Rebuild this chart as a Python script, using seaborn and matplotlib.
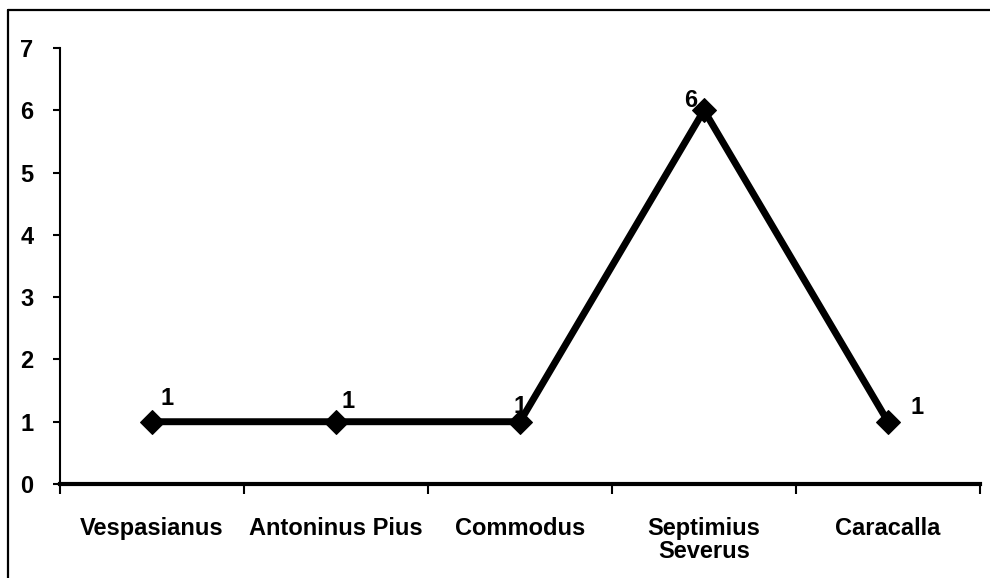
import matplotlib
matplotlib.use("Agg")
import matplotlib.pyplot as plt
import seaborn as sns
import pandas as pd
from matplotlib.lines import Line2D

categories = ["Vespasianus", "Antoninus Pius", "Commodus", "Septimius\nSeverus", "Caracalla"]
values = [1, 1, 1, 6, 1]
yticks = [0, 1, 2, 3, 4, 5, 6, 7]
# label offsets in pixels (dx, dy) relative to the point
label_offsets = [(15, 23), (12, 20), (0, 15), (-13, 10), (29, 14)]

sns.set_theme(style="white", rc={"text.color": "black", "xtick.color": "black",
                                 "ytick.color": "black", "axes.labelcolor": "black",
                                 "axes.edgecolor": "black"})
plt.rcParams['font.family'] = ['Liberation Sans', 'DejaVu Sans']
plt.rcParams['font.weight'] = 'bold'

df = pd.DataFrame({"cat": categories, "val": values})

fig = plt.figure(figsize=(9.9, 5.78), dpi=100)
ax = fig.add_axes([60/990, 1-484/578, 920/990, (484-48)/578])

sns.lineplot(data=df, x="cat", y="val", sort=False, ax=ax, color="black",
             linewidth=5, marker="D", markersize=12.5, markeredgecolor="black",
             markerfacecolor="black")

ax.set_xlim(-0.5, len(categories) - 0.5)
ax.set_ylim(0, 7)
ax.set_yticks(yticks)
ax.set_yticklabels([str(t) for t in yticks], fontsize=17, fontweight='bold', color='black')
ax.set_xticks(range(len(categories)))
ax.set_xticklabels(categories, fontsize=17, fontweight='bold', linespacing=1.0, va='top', color='black')
ax.set_xticks([i - 0.5 for i in range(len(categories) + 1)], minor=True)
ax.tick_params(axis='x', which='major', length=0, pad=24)
ax.tick_params(axis='x', which='minor', bottom=True, length=7, width=1.5, color='black', direction='out')
ax.tick_params(axis='y', which='major', length=5, width=1.5, color='black', direction='out', pad=14, left=True)
ax.set_xlabel("")
ax.set_ylabel("")

for side in ["top", "right"]:
    ax.spines[side].set_visible(False)
ax.spines["left"].set_color("black")
ax.spines["left"].set_linewidth(1.5)
ax.spines["bottom"].set_color("black")
ax.spines["bottom"].set_linewidth(3)

for i, (v, (dx, dy)) in enumerate(zip(values, label_offsets)):
    ax.annotate(str(v), xy=(i, v), xytext=(dx * 0.72, dy * 0.72), textcoords="offset points",
                ha="center", va="center", fontsize=17, fontweight="bold", color="black")

# outer frame (top and left edges visible)
fig.add_artist(Line2D([8/990, 1.0], [1-10/578, 1-10/578], transform=fig.transFigure,
                      color="black", linewidth=1.6))
fig.add_artist(Line2D([8/990, 8/990], [0, 1-10/578], transform=fig.transFigure,
                      color="black", linewidth=1.6))

fig.savefig("out.png", dpi=100, facecolor="white")
